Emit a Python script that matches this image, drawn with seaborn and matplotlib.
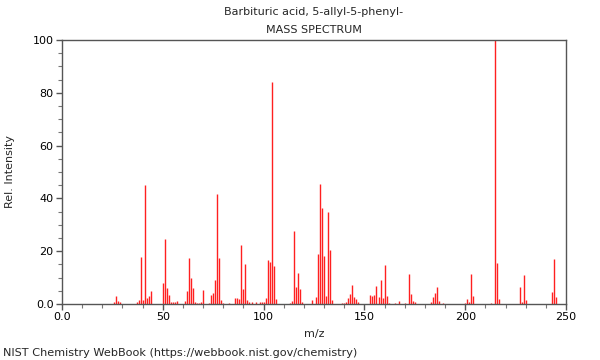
import matplotlib
matplotlib.use("Agg")
import matplotlib.pyplot as plt
import seaborn as sns
import numpy as np
from matplotlib.ticker import MultipleLocator, FixedLocator

title_line1 = "Barbituric acid, 5-allyl-5-phenyl-"
title_line2 = "MASS SPECTRUM"
x_label = "m/z"
y_label = "Rel. Intensity"
footer = "NIST Chemistry WebBook (https://webbook.nist.gov/chemistry)"

mz = [26, 27, 28, 29, 37, 38, 39, 40, 41, 42, 43, 44,
      50, 51, 52, 53, 54, 55, 56, 57, 61, 62, 63, 64, 65, 66, 67, 68, 69, 70,
      73, 74, 75, 76, 77, 78, 79, 80, 83, 86, 87, 88, 89, 90, 91, 92, 93, 94,
      96, 98, 99, 100, 101, 102, 103, 104, 105, 106, 113, 114, 115, 116, 117,
      118, 119, 124, 126, 127, 128, 129, 130, 131, 132, 133, 134, 139, 140,
      141, 142, 143, 144, 145, 146, 147, 153, 154, 155, 156, 157, 158, 159,
      160, 161, 162, 165, 167, 170, 172, 173, 174, 175, 183, 184, 185, 186,
      187, 189, 200, 201, 202, 203, 204, 213, 215, 216, 217, 227, 228, 229,
      230, 243, 244, 245]
intensity = [0.8, 3.0, 1.2, 0.8, 0.8, 1.5, 17.8, 1.5, 45.2, 2.4, 2.9, 4.9,
             8.0, 24.7, 6.0, 3.4, 0.6, 0.6, 0.6, 1.0, 1.0, 5.1, 17.5, 10.0, 6.2, 0.6, 0.4, 0.4, 0.8, 5.3,
             0.4, 3.4, 4.3, 9.0, 41.8, 17.5, 1.5, 0.4, 0.4, 2.4, 2.4, 2.0, 22.5, 5.8, 15.3, 1.5, 0.6, 0.6,
             0.8, 0.6, 0.6, 0.6, 2.4, 16.5, 15.9, 84.0, 14.4, 1.9, 0.4, 1.0, 27.5, 6.3, 11.9,
             5.5, 0.6, 1.5, 2.5, 18.8, 45.5, 36.5, 18.0, 3.2, 35.0, 20.6, 1.5, 0.4, 0.4,
             0.6, 2.1, 3.8, 7.2, 2.5, 1.9, 0.6, 3.4, 3.2, 3.4, 6.7, 2.5, 9.2, 2.4,
             14.9, 3.2, 0.4, 0.4, 1.3, 0.4, 11.5, 3.9, 1.3, 0.6, 0.8, 2.7, 4.2, 6.3,
             1.3, 0.4, 0.4, 2.0, 0.8, 11.5, 2.9, 0.4, 100.0, 15.5, 1.9, 6.3, 0.8, 11.0,
             1.5, 4.7, 17.0, 2.5]

x_ticks = [0, 50, 100, 150, 200, 250]
x_tick_labels = ["0.0", "50", "100", "150", "200", "250"]
y_ticks = [0, 20, 40, 60, 80, 100]
y_tick_labels = ["0.0", "20", "40", "60", "80", "100"]

sns.set_theme(style="ticks")
plt.rcParams["font.family"] = ["DejaVu Sans"]

fig = plt.figure(figsize=(6, 3.6), dpi=100)
ax = fig.add_axes([62/600, 1-304/360, 504/600, 264/360])

ax.vlines(mz, 0, intensity, colors="#ff2020", linewidth=1.0)

ax.set_xlim(0, 250)
ax.set_ylim(0, 100)
ax.set_xticks(x_ticks)
ax.set_xticklabels(x_tick_labels)
ax.set_yticks(y_ticks)
ax.set_yticklabels(y_tick_labels)
ax.xaxis.set_minor_locator(MultipleLocator(10))
ax.yaxis.set_minor_locator(MultipleLocator(5))
ax.tick_params(axis="both", which="major", length=4, width=1, color="#555555",
               labelsize=8, labelcolor="black", direction="out", pad=2)
ax.tick_params(axis="both", which="minor", length=3, width=0.8, color="#777777", direction="out")
for s in ax.spines.values():
    s.set_color("#555555")
    s.set_linewidth(1)
    s.set_visible(True)

ax.set_xlabel(x_label, fontsize=8)
ax.set_ylabel(y_label, fontsize=8)
ax.xaxis.set_label_coords(0.5, -0.095)
ax.yaxis.set_label_coords(-0.093, 0.5)

fig.text(314/600, 1-12/360, title_line1, ha="center", va="center", fontsize=8)
fig.text(314/600, 1-30/360, title_line2, ha="center", va="center", fontsize=8)
fig.text(3/600, 1-353/360, footer, ha="left", va="center", fontsize=8.15)

fig.savefig("out.png", dpi=100)
